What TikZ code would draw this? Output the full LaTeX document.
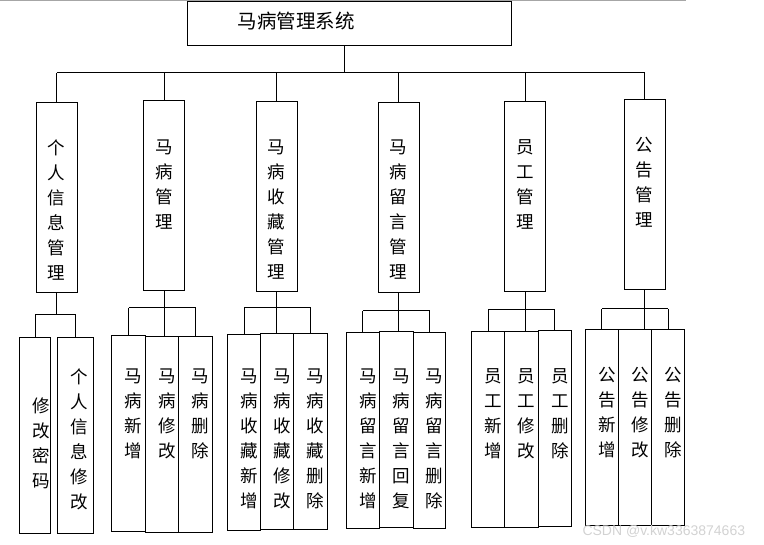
\documentclass[tikz,border=0pt]{standalone}
\usepackage{fontspec}
\newfontfamily\cjk{Noto Sans CJK SC}
\newfontfamily\wmfont{Liberation Sans}
\tikzset{
    modulo/.style={draw, line width=1pt, inner sep=0pt},
    liv1/.style={modulo, minimum width=41pt, minimum height=190pt},
    liv2/.style={modulo, minimum width=33pt, minimum height=196pt},
    voce/.style={anchor=north, align=center, inner sep=0pt, font=\cjk\fontsize{17.5}{25}\selectfont},
    voce2/.style={voce, xshift=5pt},
}
\begin{document}
\begin{tikzpicture}[x=1pt, y=-1pt, line width=1pt]
    \useasboundingbox (0,0) rectangle (764,545);
    % Riga grigia in alto
    \draw[gray!70, line width=1.5pt] (0,0.75) -- (686,0.75);

    % Sistema
    \node[modulo, minimum width=324pt, minimum height=44pt] (sys) at (349,24) {};
    \node[inner sep=0pt, font=\cjk\fontsize{19.5}{20}\selectfont] (titolo) at (296,21) {马病管理系统};
    \coordinate (bus) at (344,73);
    \coordinate (riga1) at (0,139);
    \coordinate (riga2) at (0,368);

    % Moduli di primo livello
    \node[liv1] (info) at (56.7,197.8) {};
    \node[liv1] (horse) at (164,195.8) {};
    \node[liv1] (fav) at (276.5,196.8) {};
    \node[liv1] (msg) at (398.5,197.3) {};
    \node[liv1] (staff) at (525,196.8) {};
    \node[liv1] (notice) at (644.5,194.3) {};
    \node[voce] (tinfo) at (info.north |- riga1) {个\\人\\信\\息\\管\\理};
    \node[voce] (thorse) at (horse.north |- riga1) {马\\病\\管\\理};
    \node[voce] (tfav) at (fav.north |- riga1) {马\\病\\收\\藏\\管\\理};
    \node[voce] (tmsg) at (msg.north |- riga1) {马\\病\\留\\言\\管\\理};
    \node[voce] (tstaff) at (staff.north |- riga1) {员\\工\\管\\理};
    \node[voce] (tnotice) at ([yshift=2pt]notice.north |- riga1) {公\\告\\管\\理};

    % Collegamenti sistema - moduli
    \draw (bus |- sys.south) -- (bus);
    \draw (info.north |- bus) -- (notice.north |- bus);
    \draw (info.north) -- (info.north |- bus) (horse.north) -- (horse.north |- bus)
          (fav.north) -- (fav.north |- bus) (msg.north) -- (msg.north |- bus)
          (staff.north) -- (staff.north |- bus) (notice.north) -- (notice.north |- bus);

    % Secondo livello: informazioni personali
    \coordinate (g1) at (0,315);
    \node[liv2, minimum width=31pt] (pwd) at (35,435.5) {};
    \node[liv2, minimum width=36pt] (pinfo) at (75.5,435.5) {};
    \node[voce] (tpwd) at ([xshift=6pt]pwd.north |- 0,397) {修\\改\\密\\码};
    \node[voce] (tpinfo) at ([xshift=4pt]pinfo.north |- riga2) {个\\人\\信\\息\\修\\改};
    \draw (info.south) -- (info.south |- g1);
    \draw (pwd.north |- g1) -- (pinfo.north |- g1);
    \draw (pwd.north) -- (pwd.north |- g1) (pinfo.north) -- (pinfo.north |- g1);

    % Secondo livello: gestione malattie
    \coordinate (g2) at (0,308);
    \node[liv2, minimum width=34pt] (hadd) at (128.7,433.8) {};
    \node[liv2] (hedit) at (162.2,435) {};
    \node[liv2, minimum width=33.6pt] (hdel) at (195.5,435) {};
    \node[voce2] (thadd) at (hadd.north |- riga2) {马\\病\\新\\增};
    \node[voce2] (thedit) at (hedit.north |- riga2) {马\\病\\修\\改};
    \node[voce2] (thdel) at (hdel.north |- riga2) {马\\病\\删\\除};
    \draw (horse.south) -- (horse.south |- hedit.north);
    \draw (hadd.north |- g2) -- (hdel.north |- g2);
    \draw (hadd.north) -- (hadd.north |- g2) (hdel.north) -- (hdel.north |- g2);

    % Secondo livello: raccolta
    \coordinate (g3) at (0,308);
    \node[liv2, minimum width=33.4pt] (fadd) at (244,432.2) {};
    \node[liv2] (fedit) at (277.2,431.7) {};
    \node[liv2, minimum width=33.6pt] (fdel) at (310.5,431.7) {};
    \node[voce2] (tfadd) at (fadd.north |- riga2) {马\\病\\收\\藏\\新\\增};
    \node[voce2] (tfedit) at (fedit.north |- riga2) {马\\病\\收\\藏\\修\\改};
    \node[voce2] (tfdel) at (fdel.north |- riga2) {马\\病\\收\\藏\\删\\除};
    \draw (fav.south) -- (fav.south |- fedit.north);
    \draw (fadd.north |- g3) -- (fdel.north |- g3);
    \draw (fadd.north) -- (fadd.north |- g3) (fdel.north) -- (fdel.north |- g3);

    % Secondo livello: messaggi
    \coordinate (g4) at (0,311);
    \node[liv2] (madd) at (362.8,430.3) {};
    \node[liv2, minimum width=34.4pt] (mreply) at (396.5,429.8) {};
    \node[liv2, minimum width=32pt] (mdel) at (429.7,430.3) {};
    \node[voce2] (tmadd) at (madd.north |- riga2) {马\\病\\留\\言\\新\\增};
    \node[voce2] (tmreply) at (mreply.north |- riga2) {马\\病\\留\\言\\回\\复};
    \node[voce2] (tmdel) at (mdel.north |- riga2) {马\\病\\留\\言\\删\\除};
    \draw (msg.south) -- (msg.south |- mreply.north);
    \draw (madd.north |- g4) -- (mdel.north |- g4);
    \draw (madd.north) -- (madd.north |- g4) (mdel.north) -- (mdel.north |- g4);

    % Secondo livello: personale
    \coordinate (g5) at (0,310);
    \node[liv2, minimum width=32.6pt] (sadd) at (488,429.3) {};
    \node[liv2, minimum width=34pt] (sedit) at (521.3,429.2) {};
    \node[liv2] (sdel) at (554.8,428.3) {};
    \node[voce2] (tsadd) at (sadd.north |- riga2) {员\\工\\新\\增};
    \node[voce2] (tsedit) at (sedit.north |- riga2) {员\\工\\修\\改};
    \node[voce2] (tsdel) at (sdel.north |- riga2) {员\\工\\删\\除};
    \draw (staff.south) -- (staff.south |- sedit.north);
    \draw (sadd.north |- g5) -- (sdel.north |- g5);
    \draw (sadd.north) -- (sadd.north |- g5) (sdel.north) -- (sdel.north |- g5);

    % Secondo livello: avvisi
    \coordinate (g6) at (0,309);
    \node[liv2] (nadd) at (601.8,427.4) {};
    \node[liv2, minimum width=33.4pt] (nedit) at (635,427.4) {};
    \node[liv2, minimum width=32.6pt] (ndel) at (668,427.4) {};
    \node[voce2] (tnadd) at ([yshift=1pt]nadd.north |- riga2) {公\\告\\新\\增};
    \node[voce2] (tnedit) at ([yshift=1pt]nedit.north |- riga2) {公\\告\\修\\改};
    \node[voce2] (tndel) at ([yshift=1pt]ndel.north |- riga2) {公\\告\\删\\除};
    \draw (notice.south) -- (notice.south |- nedit.north);
    \draw (nadd.north |- g6) -- (ndel.north |- g6);
    \draw (nadd.north) -- (nadd.north |- g6) (ndel.north) -- (ndel.north |- g6);

    % Filigrana
    \node[anchor=west, inner sep=0pt, text=gray!35, font=\wmfont\fontsize{14}{16}\selectfont] (wm) at (582,531) {CSDN @v.kw3363874663};
\end{tikzpicture}
\end{document}
